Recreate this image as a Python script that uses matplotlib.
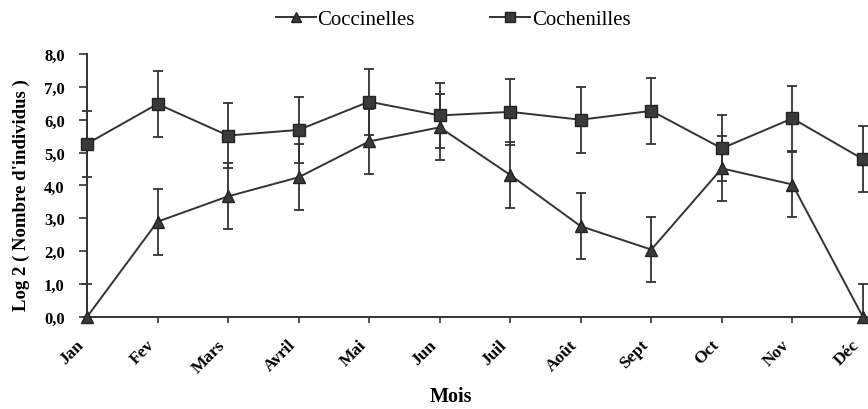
import matplotlib
matplotlib.use("Agg")
import matplotlib.pyplot as plt
from matplotlib.lines import Line2D
import numpy as np

months = ["Jan", "Fev", "Mars", "Avril", "Mai", "Jun", "Juil", "Août", "Sept", "Oct", "Nov", "Déc"]
coccinelles = [0.0, 2.9, 3.67, 4.25, 5.34, 5.77, 4.32, 2.76, 2.05, 4.52, 4.03, 0.0]
coccinelles_err = [1.0, 1.0, 1.0, 1.0, 1.0, 1.0, 1.0, 1.0, 1.0, 1.0, 1.0, 1.0]
cochenilles = [5.27, 6.48, 5.52, 5.69, 6.55, 6.13, 6.24, 6.0, 6.27, 5.13, 6.04, 4.8]
cochenilles_err = [1.0, 1.0, 1.0, 1.0, 1.0, 1.0, 1.0, 1.0, 1.0, 1.0, 1.0, 1.0]
yticks = [0, 1, 2, 3, 4, 5, 6, 7, 8]
ytick_labels = ["0,0", "1,0", "2,0", "3,0", "4,0", "5,0", "6,0", "7,0", "8,0"]

plt.rcParams['font.family'] = ['Liberation Serif', 'DejaVu Serif']

fig = plt.figure(figsize=(8.68, 4.10), dpi=100)
ax = fig.add_axes([0.1002, 0.2244, 0.894, 0.6415])

x = np.arange(len(months))
col = "#333333"
mfc = "#3a3a3a"
mec = "#222222"


def asym(vals, errs):
    lower = [min(e, v) for v, e in zip(vals, errs)]
    return [lower, list(errs)]


ax.errorbar(x, coccinelles, yerr=asym(coccinelles, coccinelles_err), color=col, lw=1.4,
            marker="^", ms=8.5, mfc=mfc, mec=mec, ecolor=col, elinewidth=1.3,
            capsize=3.5, capthick=1.3, clip_on=False, zorder=3)
ax.errorbar(x, cochenilles, yerr=asym(cochenilles, cochenilles_err), color=col, lw=1.4,
            marker="s", ms=8, mfc=mfc, mec=mec, ecolor=col, elinewidth=1.3,
            capsize=3.5, capthick=1.3, clip_on=False, zorder=3)

ax.set_xlim(0, 11)
ax.set_ylim(0, 8)
ax.set_yticks(yticks)
ax.set_yticklabels(ytick_labels, fontsize=12, fontweight="bold")
ax.set_xticks(x)
ax.set_xticklabels(months, rotation=45, ha="right", va="top", fontsize=12.5, fontweight="bold")
ax.tick_params(axis="x", length=4, width=1.2, pad=10, color=col)
ax.tick_params(axis="y", length=6, width=1.2, pad=10, color=col)
for s in ["top", "right"]:
    ax.spines[s].set_visible(False)
for s in ["left", "bottom"]:
    ax.spines[s].set_color(col)
    ax.spines[s].set_linewidth(1.4)

ax.set_ylabel("Log 2 ( Nombre d'individus )", fontsize=13.5, fontweight="bold")
ax.yaxis.set_label_coords(-0.074, 0.468)
fig.text(0.52, 0.008, "Mois", fontsize=14.5, fontweight="bold", ha="center", va="bottom")

handles = [
    Line2D([], [], color=col, lw=1.4, marker="^", ms=7, mfc=mfc, mec=mec),
    Line2D([], [], color=col, lw=1.4, marker="s", ms=6.5, mfc=mfc, mec=mec),
]
fig.legend(handles, ["Coccinelles", "Cochenilles"], loc="center", bbox_to_anchor=(0.522, 0.951),
           ncol=2, frameon=False, fontsize=15, handlelength=1.9, handletextpad=0.1,
           columnspacing=3.6, borderpad=0)

fig.savefig("out.png", dpi=100)
